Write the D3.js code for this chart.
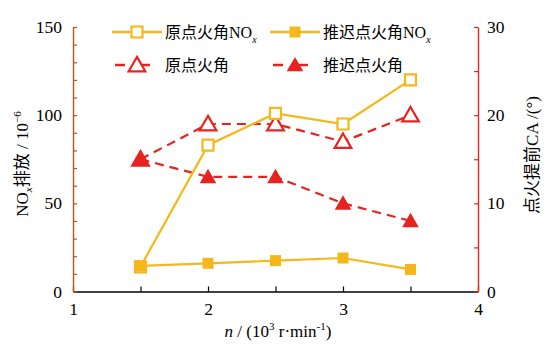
<!DOCTYPE html>
<html>
<head>
<meta charset="utf-8">
<script src="https://cdn.jsdelivr.net/npm/d3@7"></script>
<style>
  body { margin: 0; background: #fff; }
  svg text { font-family: "Liberation Serif", "Noto Sans CJK SC", serif; }
</style>
</head>
<body>
<svg id="chart" width="550" height="350"></svg>
<script>
// Engine speed (10^3 r/min)
const speeds = [1.5, 2, 2.5, 3, 3.5];
// NOx emission (10^-6)
const noxOriginal = [14, 83, 101, 95, 120];
const noxRetarded = [14.5, 16, 17.5, 19, 12.5];
// Spark advance angle CA (°)
const advOriginal = [15, 19, 19, 17, 20];
const advRetarded = [15, 13, 13, 10, 8];

const xTicks = [1, 2, 3, 4];
const yLeftTicks = [0, 50, 100, 150];
const yRightTicks = [0, 10, 20, 30];

const ORANGE = "#f5b81c";
const RED = "#e8231f";
const BROWN = "#b5541c";

const svg = d3.select("#chart");
const m = { left: 73, right: 478, top: 27, bottom: 291.5 };

const x = d3.scaleLinear().domain([1, 4]).range([m.left, m.right]);
const yL = d3.scaleLinear().domain([0, 150]).range([m.bottom, m.top]);
const yR = d3.scaleLinear().domain([0, 30]).range([m.bottom, m.top]);

const tickFont = "17.5px";

// x axis
const gx = svg.append("g").attr("transform", `translate(0,${m.bottom})`)
  .call(d3.axisBottom(x).tickValues(d3.range(1, 4.01, 0.5)).tickSizeInner(-5).tickSizeOuter(0)
    .tickFormat(d => xTicks.includes(d) ? d3.format("d")(d) : ""));
gx.select(".domain").attr("stroke", "#000").attr("stroke-width", 1.6);
gx.selectAll(".tick line").attr("stroke", "#000").attr("stroke-width", 1.2);
gx.selectAll(".tick text").attr("y", 11).attr("font-size", tickFont).attr("fill", "#000");

// left axis
const gl = svg.append("g").attr("transform", `translate(${m.left},0)`)
  .call(d3.axisLeft(yL).tickValues(d3.range(0, 151, 10)).tickSizeInner(-4).tickSizeOuter(0)
    .tickFormat(d => yLeftTicks.includes(d) ? d : ""));
gl.select(".domain").attr("stroke", BROWN).attr("stroke-width", 1.4);
gl.selectAll(".tick line").attr("stroke", BROWN).attr("stroke-width", 1.2);
gl.selectAll(".tick text").attr("x", -11).attr("font-size", tickFont).attr("fill", "#000");

// right axis
const gr = svg.append("g").attr("transform", `translate(${m.right},0)`)
  .call(d3.axisRight(yR).tickValues(d3.range(0, 31, 5)).tickSizeInner(-4).tickSizeOuter(0)
    .tickFormat(d => yRightTicks.includes(d) ? d : ""));
gr.select(".domain").attr("stroke", RED).attr("stroke-width", 1.4);
gr.selectAll(".tick line").attr("stroke", RED).attr("stroke-width", 1.2);
gr.selectAll(".tick text").attr("x", 9).attr("font-size", tickFont).attr("fill", "#000");

// axis titles
const lt = svg.append("text").attr("transform", "translate(28,164) rotate(-90)")
  .attr("text-anchor", "middle").attr("font-size", "17px").attr("fill", "#000");
lt.append("tspan").text("NO");
lt.append("tspan").attr("font-style", "italic").attr("font-size", "11px").attr("dy", 4).text("x");
lt.append("tspan").attr("dy", -4).text("排放 / 10");
lt.append("tspan").attr("font-size", "11px").attr("dy", -7).text("−6");

svg.append("text").attr("transform", "translate(538,155) rotate(-90)")
  .attr("text-anchor", "middle").attr("font-size", "17px").attr("fill", "#000")
  .text("点火提前CA /(°)");

const xt = svg.append("text").attr("x", 278).attr("y", 337)
  .attr("text-anchor", "middle").attr("font-size", "17px").attr("fill", "#000");
xt.append("tspan").attr("font-style", "italic").text("n");
xt.append("tspan").text(" / (10");
xt.append("tspan").attr("font-size", "11px").attr("dy", -7).text("3");
xt.append("tspan").attr("dy", 7).text(" r·min");
xt.append("tspan").attr("font-size", "11px").attr("dy", -7).text("-1");
xt.append("tspan").attr("dy", 7).text(")");

// marker symbols
const sq = d3.symbol().type(d3.symbolSquare).size(121)();
const tri = d3.symbol().type(d3.symbolTriangle).size(120)();

function series(vals, yScale, color, dash, shape, filled) {
  const pts = speeds.map((s, i) => [x(s), yScale(vals[i])]);
  svg.append("path").datum(pts)
    .attr("d", d3.line())
    .attr("fill", "none").attr("stroke", color).attr("stroke-width", 2.2)
    .attr("stroke-dasharray", dash || null);
  svg.append("g").selectAll("path").data(pts).join("path")
    .attr("d", shape)
    .attr("transform", d => `translate(${d[0]},${d[1] + (shape === tri ? 1.5 : 0)})`)
    .attr("fill", filled ? color : "#fff")
    .attr("stroke", color).attr("stroke-width", filled ? 0 : 2.2);
}

series(advOriginal, yR, RED, "9,6", tri, false);
series(advRetarded, yR, RED, "9,6", tri, true);
series(noxOriginal, yL, ORANGE, null, sq, false);
series(noxRetarded, yL, ORANGE, null, sq, true);

// legend
const legend = [
  { x: 112, y: 32, color: ORANGE, dash: null, shape: sq, filled: false, label: "原点火角NO", sub: true },
  { x: 270, y: 32, color: ORANGE, dash: null, shape: sq, filled: true, label: "推迟点火角NO", sub: true },
  { x: 112, y: 65, color: RED, dash: "10,15", shape: tri, filled: false, label: "原点火角", sub: false },
  { x: 270, y: 65, color: RED, dash: "10,15", shape: tri, filled: true, label: "推迟点火角", sub: false }
];
legend.forEach(l => {
  const g = svg.append("g").attr("transform", `translate(${l.x},${l.y})`);
  g.append("line").attr("x1", l.dash ? 3 : 0).attr("x2", 50).attr("y1", 0).attr("y2", 0)
    .attr("stroke", l.color).attr("stroke-width", 2.4)
    .attr("stroke-dasharray", l.dash || null);
  g.append("path").attr("d", l.shape)
    .attr("transform", `translate(25,${l.shape === tri ? 1.5 : 0})`)
    .attr("fill", l.filled ? l.color : "#fff")
    .attr("stroke", l.color).attr("stroke-width", l.filled ? 0 : 2.2);
  const t = g.append("text").attr("x", 53).attr("y", 5.5).attr("font-size", "16px").attr("fill", "#000");
  t.append("tspan").text(l.label);
  if (l.sub) t.append("tspan").attr("font-style", "italic").attr("font-size", "10px").attr("dy", 5).text("x");
});
</script>
</body>
</html>
